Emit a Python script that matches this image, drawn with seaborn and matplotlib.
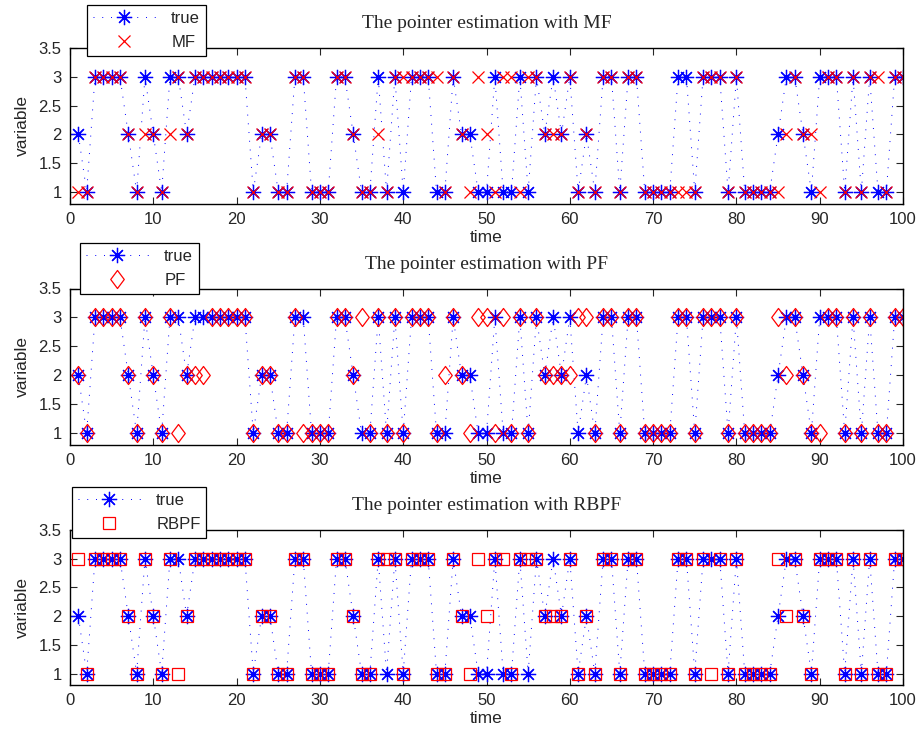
import numpy as np
import matplotlib
matplotlib.use("Agg")
import matplotlib.pyplot as plt
from matplotlib.path import Path
import seaborn as sns

sns.set_style("ticks")
plt.rcParams["font.family"] = ["Liberation Sans", "DejaVu Sans"]

# time steps 1..100
time = np.arange(1, 101)

# true pointer value (same in all three panels)
true_vals = [2, 1, 3, 3, 3, 3, 2, 1, 3, 2,
             1, 3, 3, 2, 3, 3, 3, 3, 3, 3,
             3, 1, 2, 2, 1, 1, 3, 3, 1, 1,
             1, 3, 3, 2, 1, 1, 3, 1, 3, 1,
             3, 3, 3, 1, 1, 3, 2, 2, 1, 1,
             3, 1, 1, 3, 1, 3, 2, 3, 2, 3,
             1, 2, 1, 3, 3, 1, 3, 3, 1, 1,
             1, 1, 3, 3, 1, 3, 3, 3, 1, 3,
             1, 1, 1, 1, 2, 3, 3, 2, 1, 3,
             3, 3, 1, 3, 1, 3, 1, 1, 3, 3]

mf_vals = [1, 1, 3, 3, 3, 3, 2, 1, 2, 2,
           1, 2, 3, 2, 3, 3, 3, 3, 3, 3,
           3, 1, 2, 2, 1, 1, 3, 3, 1, 1,
           1, 3, 3, 2, 1, 1, 2, 1, 3, 3,
           3, 3, 3, 3, 1, 3, 2, 1, 3, 2,
           1, 3, 3, 1, 3, 3, 2, 2, 2, 3,
           1, 2, 1, 3, 3, 1, 3, 3, 1, 1,
           1, 1, 1, 1, 1, 3, 3, 3, 1, 3,
           1, 1, 1, 1, 1, 2, 3, 2, 2, 1,
           3, 3, 1, 3, 1, 3, 3, 1, 3, 3]

pf_vals = [2, 1, 3, 3, 3, 3, 2, 1, 3, 2,
           1, 3, 1, 2, 2, 2, 3, 3, 3, 3,
           3, 1, 2, 2, 1, 1, 3, 1, 1, 1,
           1, 3, 3, 2, 3, 1, 3, 1, 3, 1,
           3, 3, 3, 1, 2, 3, 2, 1, 3, 3,
           1, 3, 1, 3, 1, 3, 2, 2, 2, 2,
           3, 3, 1, 3, 3, 1, 3, 3, 1, 1,
           1, 1, 3, 3, 1, 3, 3, 3, 1, 3,
           1, 1, 1, 1, 3, 2, 3, 2, 1, 1,
           3, 3, 1, 3, 1, 3, 1, 1, 3, 3]

rbpf_vals = [3, 1, 3, 3, 3, 3, 2, 1, 3, 2,
             1, 3, 1, 2, 3, 3, 3, 3, 3, 3,
             3, 1, 2, 2, 1, 1, 3, 3, 1, 1,
             1, 3, 3, 2, 1, 1, 3, 3, 3, 1,
             3, 3, 3, 1, 1, 3, 2, 1, 3, 2,
             3, 3, 1, 3, 3, 3, 2, 2, 2, 3,
             1, 2, 1, 3, 3, 1, 3, 3, 1, 1,
             1, 1, 3, 3, 1, 3, 1, 3, 1, 3,
             1, 1, 1, 1, 3, 2, 3, 2, 1, 3,
             3, 3, 1, 3, 1, 3, 1, 1, 3, 3]

method_names = ["MF", "PF", "RBPF"]
x_ticks = list(range(0, 101, 10))
y_ticks = [1, 1.5, 2, 2.5, 3, 3.5]

# MATLAB-like markers
star = (8, 2, 0)
diamond = Path([(0, 1), (0.75, 0), (0, -1), (-0.75, 0), (0, 1)],
               [Path.MOVETO, Path.LINETO, Path.LINETO, Path.LINETO, Path.CLOSEPOLY])

fig = plt.figure(figsize=(9.22, 7.39), dpi=100)
W, H = 922, 739
left, right = 70, 903
panels = [
    # top, bottom (px), estimate, marker, marker size, legend anchor (px)
    (48, 203.5, mf_vals, "x", 8, (87, 5)),
    (288.5, 445, pf_vals, diamond, 13, (80, 243)),
    (530, 685, rbpf_vals, "s", 9, (72, 487)),
]

for name, (top, bot, est, mk, ms, (lx, ly)) in zip(method_names, panels):
    ax = fig.add_axes([left / W, 1 - bot / H, (right - left) / W, (bot - top) / H])
    sns.lineplot(x=time, y=true_vals, ax=ax, color="blue", linestyle=(0, (1, 8)),
                 linewidth=0.7, marker=star, markersize=11, markeredgecolor="blue",
                 markeredgewidth=0.9, label="true")
    sns.lineplot(x=time, y=est, ax=ax, color="red", linestyle="none",
                 marker=mk, markersize=ms, markeredgecolor="red",
                 markerfacecolor="none", markeredgewidth=0.9, label=name)
    ax.set_xlim(0, 100)
    ax.set_ylim(0.8, 3.5)
    ax.set_xticks(x_ticks)
    ax.set_yticks(y_ticks)
    ax.set_yticklabels(["1", "1.5", "2", "2.5", "3", "3.5"])
    ax.tick_params(direction="in", length=5, width=0.8, labelsize=12,
                   top=True, right=True, pad=6)
    for sp in ax.spines.values():
        sp.set_visible(True)
        sp.set_linewidth(1.0)
        sp.set_color("black")
    ax.set_xlabel("time", fontsize=12.5, labelpad=2)
    ax.set_ylabel("variable", fontsize=12.5, labelpad=6)
    ax.text(0.5, 1 + 24 / (bot - top), "The pointer estimation with " + name,
            transform=ax.transAxes, ha="center", va="center", fontsize=14,
            family=["Liberation Serif", "DejaVu Serif"])
    leg = ax.legend(loc="upper left",
                    bbox_to_anchor=((lx - left) / (right - left), (bot - ly) / (bot - top)),
                    borderaxespad=0, fancybox=False, framealpha=1, edgecolor="black",
                    fontsize=12, handlelength=3.8, handletextpad=0.9,
                    labelspacing=0.55, borderpad=0.35)
    leg.get_frame().set_linewidth(0.9)

fig.savefig("out.png", dpi=100)
